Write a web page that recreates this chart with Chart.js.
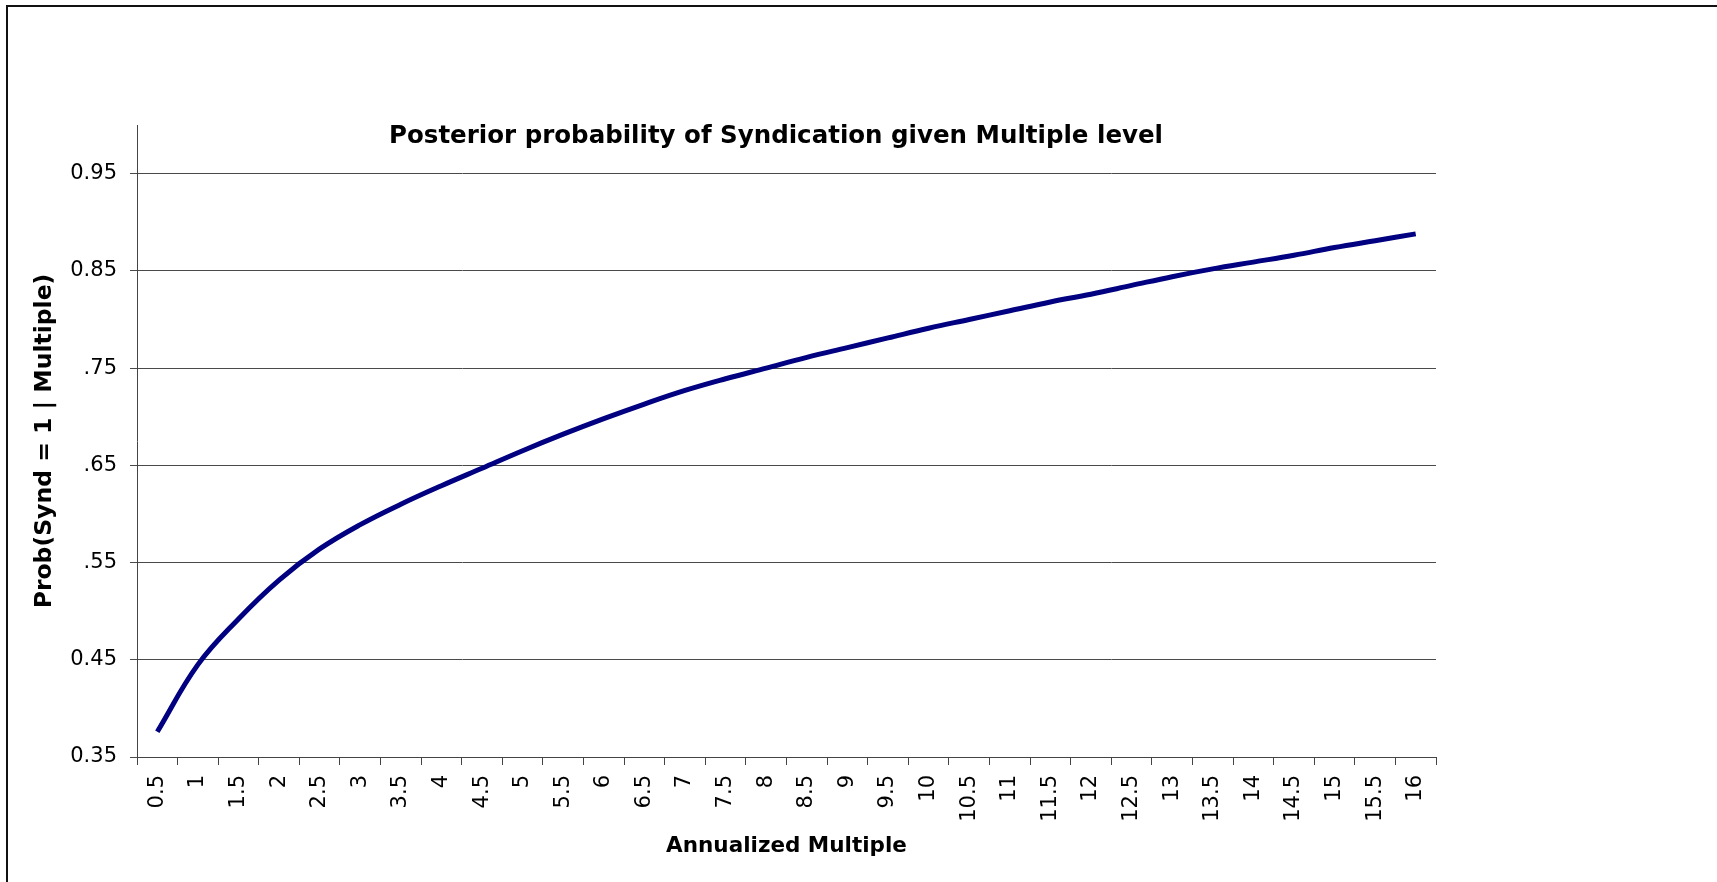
<!DOCTYPE html>
<html>
<head>
<meta charset="utf-8">
<script src="https://cdn.jsdelivr.net/npm/chart.js@4/dist/chart.umd.min.js"></script>
<style>
  html, body { margin: 0; padding: 0; background: #fff; width: 1717px; height: 882px; overflow: hidden; }
  #frame { position: absolute; left: 6px; top: 5px; width: 1711px; height: 877px;
           border-top: 2px solid #111; border-left: 2px solid #111; box-sizing: border-box; }
  #c { position: absolute; left: 0; top: 0; }
</style>
</head>
<body>
<div id="frame"></div>
<canvas id="c" width="1717" height="882"></canvas>
<script>
const chartTitle = 'Posterior probability of Syndication given Multiple level';
const xAxisTitle = 'Annualized Multiple';
const yAxisTitle = 'Prob(Synd = 1 | Multiple)';

const categories = ['0.5','1','1.5','2','2.5','3','3.5','4','4.5','5','5.5','6','6.5','7','7.5','8',
                    '8.5','9','9.5','10','10.5','11','11.5','12','12.5','13','13.5','14','14.5','15','15.5','16'];

const probValues = [0.376, 0.445, 0.492, 0.532, 0.564, 0.589, 0.610, 0.629, 0.647, 0.665, 0.682, 0.698,
                    0.713, 0.727, 0.739, 0.750, 0.761, 0.771, 0.781, 0.791, 0.800, 0.809, 0.818, 0.826,
                    0.835, 0.844, 0.852, 0.859, 0.866, 0.874, 0.881, 0.888];

const yTickValues = [0.35, 0.45, 0.55, 0.65, 0.75, 0.85, 0.95];
const yTickLabels = ['0.35', '0.45', '.55', '.65', '.75', '0.85', '0.95'];

const FONT = 'DejaVu Sans, Verdana, sans-serif';

new Chart(document.getElementById('c'), {
  type: 'line',
  data: {
    labels: categories,
    datasets: [{
      data: probValues,
      yAxisID: 'y',
      borderColor: '#000080',
      borderWidth: 5,
      borderCapStyle: 'butt',
      pointRadius: 0,
      pointHoverRadius: 0,
      fill: false,
      tension: 0.4
    }]
  },
  options: {
    responsive: false,
    devicePixelRatio: 1,
    animation: false,
    events: [],
    layout: { padding: { left: 0, right: 165, top: 0, bottom: 0 } },
    plugins: {
      legend: { display: false },
      tooltip: { enabled: false },
      title: {
        display: true,
        text: chartTitle,
        color: '#000',
        font: { family: FONT, size: 24.5, weight: 'bold' },
        padding: { top: 122.3, bottom: -26.7 },
        fullSize: true
      }
    },
    scales: {
      x: {
        type: 'category',
        offset: true,
        afterFit: s => { s.height = 125; },
        grid: { display: true, drawOnChartArea: false, drawTicks: true, tickLength: 8, offset: true, color: '#444', lineWidth: 1 },
        border: { display: true, color: '#444', width: 1 },
        ticks: {
          autoSkip: false, minRotation: 90, maxRotation: 90, padding: 10,
          color: '#000', font: { family: FONT, size: 21 }
        },
        title: {
          display: true, text: xAxisTitle, color: '#000',
          font: { family: FONT, size: 21.5, weight: 'bold' },
          padding: { top: 0, bottom: 22.6 }
        }
      },
      y: {
        type: 'linear',
        position: 'left',
        min: 0.35,
        max: 1.0,
        afterFit: s => { s.width = 137; },
        afterBuildTicks: s => { s.ticks = yTickValues.map(v => ({ value: v })); },
        grid: { drawOnChartArea: true, drawTicks: true, tickLength: 7, color: '#4a4a4a', lineWidth: 1 },
        border: { display: true, color: '#444', width: 1 },
        ticks: {
          padding: 13, color: '#000', font: { family: FONT, size: 21 },
          callback: (v, i) => yTickLabels[i]
        },
        title: {
          display: true, text: yAxisTitle, color: '#000',
          font: { family: FONT, size: 23.5, weight: 'bold' },
          padding: { top: 30.9, bottom: 0 }
        }
      },
      spacer: {
        type: 'linear',
        position: 'right',
        display: true,
        afterFit: s => { s.width = 116; },
        grid: { display: false, drawTicks: false },
        border: { display: false },
        ticks: { display: false },
        title: { display: false }
      }
    }
  }
});
</script>
</body>
</html>
